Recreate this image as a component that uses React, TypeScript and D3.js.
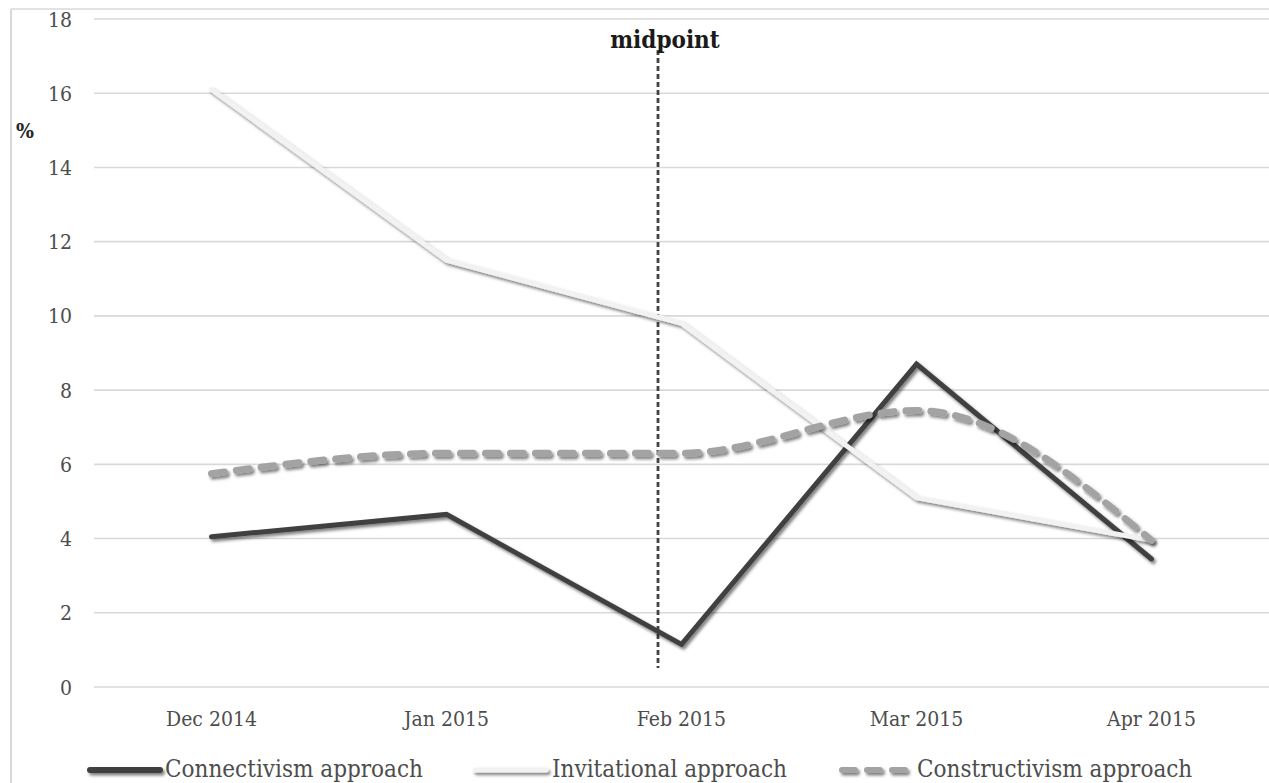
import React from "react";
import * as d3 from "d3";

const months = ["Dec 2014", "Jan 2015", "Feb 2015", "Mar 2015", "Apr 2015"];
const connectivism = [4.05, 4.65, 1.15, 8.7, 3.45];
const invitational = [16.1, 11.5, 9.8, 5.1, 3.95];
const constructivism = [5.75, 6.3, 6.3, 7.45, 3.95];
const yTicks = [0, 2, 4, 6, 8, 10, 12, 14, 16, 18];
// midpoint marker, expressed as a fractional month index
const midpointIndex = 1.9;

const W = 1269;
const H = 783;
const FONT = "'DejaVu Serif Condensed', 'DejaVu Serif', serif";

const DARK = "#404040";
const LIGHT = "#f2f2f2";
const MID = "#a3a3a3";

export default function App() {
  const x = d3.scaleBand<string>().domain(months).range([94, 1269]).padding(0);
  const cx = (m: string) => (x(m) as number) + x.bandwidth() / 2;
  const xi = d3
    .scaleLinear()
    .domain([0, months.length - 1])
    .range([cx(months[0]), cx(months[months.length - 1])]);
  const y = d3.scaleLinear().domain([0, 18]).range([687, 19]);

  const straight = d3
    .line<number>()
    .x((_, i) => cx(months[i]))
    .y((d) => y(d));
  const smooth = d3
    .line<number>()
    .x((_, i) => cx(months[i]))
    .y((d) => y(d))
    .curve(d3.curveMonotoneX);

  const legendY = 770;
  const legendBase = 777;

  return (
    <svg
      width={W}
      height={H}
      style={{ position: "absolute", left: 0, top: 0, background: "#fff" }}
      fontFamily={FONT}
    >
      <defs>
        <filter id="shadow" filterUnits="userSpaceOnUse" x={0} y={0} width={W} height={H}>
          <feDropShadow dx="2" dy="2.5" stdDeviation="1.6" floodColor="#000" floodOpacity="0.5" />
        </filter>
      </defs>
      {/* outer frame */}
      <line x1={11} x2={11} y1={9} y2={H} stroke="#d9d9d9" strokeWidth={2} />
      <line x1={11} x2={W} y1={9} y2={9} stroke="#d9d9d9" strokeWidth={1.5} />

      {/* gridlines */}
      {yTicks.map((t) => (
        <line
          key={t}
          x1={94}
          x2={W}
          y1={y(t)}
          y2={y(t)}
          stroke="#d9d9d9"
          strokeWidth={1.6}
        />
      ))}
      {/* y tick labels */}
      {yTicks.map((t) => (
        <text
          key={t}
          x={72}
          y={y(t)}
          dy="0.36em"
          textAnchor="end"
          fontSize={21}
          fill="#4d4d4d"
        >
          {t}
        </text>
      ))}
      <text x={25} y={130} dy="0.36em" textAnchor="middle" fontSize={21} fontWeight="bold" fill="#262626">
        %
      </text>

      {/* x tick labels */}
      {months.map((m) => (
        <text key={m} x={cx(m)} y={726} textAnchor="middle" fontSize={21} fill="#4d4d4d">
          {m}
        </text>
      ))}

      {/* midpoint marker */}
      <line
        x1={xi(midpointIndex)}
        x2={xi(midpointIndex)}
        y1={50}
        y2={668}
        stroke="#444"
        strokeWidth={2.8}
        strokeDasharray="5 3"
      />
      <text
        x={xi(midpointIndex) + 7}
        y={48}
        textAnchor="middle"
        fontSize={24}
        fontWeight="bold"
        fill="#1a1a1a"
      >
        midpoint
      </text>

      {/* series */}
      <path
        d={straight(connectivism) || ""}
        fill="none"
        stroke={DARK}
        strokeWidth={5}
        strokeLinecap="round"
        filter="url(#shadow)"
      />
      <path
        d={straight(invitational) || ""}
        fill="none"
        stroke={LIGHT}
        strokeWidth={5}
        strokeLinecap="round"
        filter="url(#shadow)"
      />
      <path
        d={smooth(constructivism) || ""}
        fill="none"
        stroke={MID}
        strokeWidth={7}
        strokeLinecap="round"
        strokeDasharray="13 12"
        filter="url(#shadow)"
      />

      {/* legend */}
      <g fontSize={24} fill="#4d4d4d">
        <line x1={90} x2={160} y1={legendY} y2={legendY} stroke={DARK} strokeWidth={6} strokeLinecap="round" filter="url(#shadow)" />
        <text x={165} y={legendBase}>Connectivism approach</text>
        <line x1={475} x2={546} y1={legendY} y2={legendY} stroke={LIGHT} strokeWidth={5} strokeLinecap="round" filter="url(#shadow)" />
        <text x={552} y={legendBase}>Invitational approach</text>
        <line x1={842} x2={914} y1={legendY} y2={legendY} stroke={MID} strokeWidth={6} strokeLinecap="round" strokeDasharray="13 12" filter="url(#shadow)" />
        <text x={917} y={legendBase}>Constructivism approach</text>
      </g>
    </svg>
  );
}
